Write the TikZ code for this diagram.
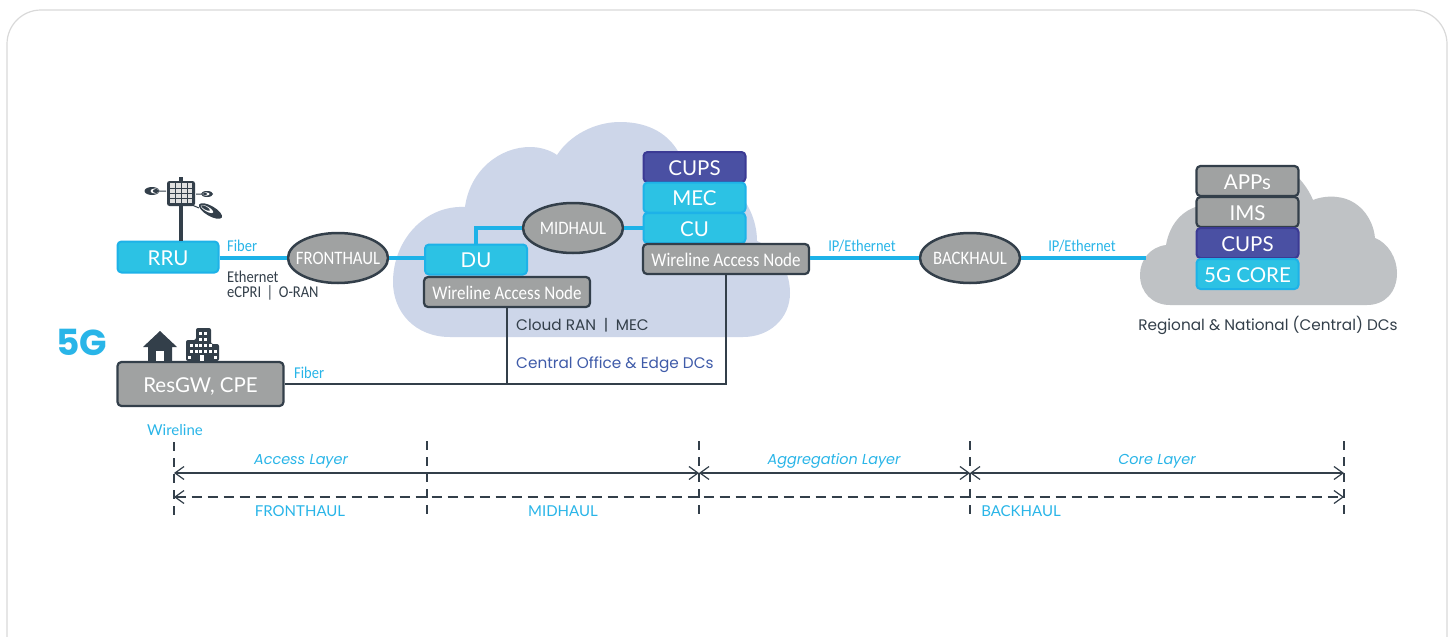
\documentclass[tikz,border=0pt]{standalone}
\usepackage{fontspec}
\setmainfont{Lato}
\newfontfamily\narrowf[FakeStretch=0.88]{Carlito}
\newfontfamily\widef{Poppins}
\usetikzlibrary{shapes.geometric,arrows.meta}
\definecolor{cy}{HTML}{2CC2E4}
\definecolor{cyb}{HTML}{1DB2E8}
\definecolor{txtc}{HTML}{29B5E8}
\definecolor{dk}{HTML}{333F4A}
\definecolor{gy}{HTML}{A0A2A2}
\definecolor{pu}{HTML}{4A50A3}
\definecolor{pub}{HTML}{3B3A94}
\definecolor{cl}{HTML}{CDD6E9}
\definecolor{clg}{HTML}{BFC2C5}
\definecolor{blu}{HTML}{3F5BA9}
\newcommand{\hubtext}[1]{\makebox[0pt]{#1}}
\tikzset{
 x=1pt,y=-1pt,
 base/.style={rounded corners=4pt,line width=2pt,inner sep=0pt,text=white,text height=16pt,text depth=0pt,font=\fontsize{20.5}{20}\selectfont},
 cybox/.style={base,draw=cyb,fill=cy},
 pubox/.style={base,draw=pub,fill=pu},
 gybox/.style={base,draw=dk,fill=gy,line width=2.2pt},
 wan/.style={gybox,minimum width=166pt,minimum height=30pt,text height=14pt,font=\narrowf\fontsize{19.3}{18}\selectfont},
 stackbox/.style={minimum width=102pt,minimum height=30pt},
 hub/.style={ellipse,draw=dk,fill=gy,line width=2.5pt,minimum width=100pt,minimum height=50pt,inner sep=0pt,text=white,font=\narrowf\fontsize{19}{18}\selectfont},
 blueline/.style={cyb,line width=4pt},
 darkline/.style={dk,line width=2pt},
 lab/.style={inner sep=0pt,text=txtc,font=\narrowf\fontsize{16.5}{15}\selectfont},
 darklab/.style={inner sep=0pt,text=dk,font=\narrowf\fontsize{16.5}{15}\selectfont},
 txt/.style={inner sep=0pt,font=\fontsize{15}{15}\selectfont},
 wtxt/.style={inner sep=0pt,font=\widef\fontsize{15.3}{15}\selectfont},
 ltxt/.style={inner sep=0pt,text=txtc,font=\widef\itshape\fontsize{14.4}{15}\selectfont},
 tick/.style={dk,line width=1.6pt,dash pattern=on 9pt off 7pt},
 span/.style={dk,line width=1.5pt,{Straight Barb[length=9pt,width=13pt,line width=1.2pt]}-{Straight Barb[length=9pt,width=13pt,line width=1.2pt]}},
 dspan/.style={span,dash pattern=on 10pt off 6pt},
}
\begin{document}
\begin{tikzpicture}
\useasboundingbox (0,0) rectangle (1452,637);
% card
\draw[draw=black!15,line width=1.2pt,fill=white,rounded corners=34pt] (7,10) rectangle (1447,680);
% clouds
\fill[cl] (450,337) .. controls (415,337) and (393,312) .. (393,282)
 .. controls (393,240) and (425,205) .. (465,207)
 .. controls (470,170) and (500,147) .. (530,147)
 .. controls (540,147) and (550,150) .. (557,155)
 .. controls (570,135) and (595,122) .. (620,122)
 .. controls (650,122) and (670,135) .. (680,155)
 .. controls (720,165) and (757,200) .. (757,241)
 .. controls (777,250) and (790,270) .. (790,293)
 .. controls (790,318) and (770,337) .. (743,337) -- cycle;
\fill[clg] (1170,305) .. controls (1152,305) and (1140,292) .. (1140,275)
 .. controls (1140,260) and (1150,247) .. (1166,245)
 .. controls (1170,222) and (1185,207) .. (1205,205)
 -- (1290,170)
 .. controls (1300,178) and (1308,188) .. (1313,200)
 .. controls (1320,197) and (1330,196) .. (1337,197)
 .. controls (1358,199) and (1373,217) .. (1375,238)
 .. controls (1388,243) and (1397,258) .. (1397,273)
 .. controls (1397,292) and (1385,305) .. (1367,305) -- cycle;
% nodes
\node[cybox,minimum width=101pt,minimum height=31pt] (rru) at (168,257) {RRU};
\node[hub] (fh) at (338,258) {\hubtext{FRONTHAUL}};
\node[cybox,minimum width=102pt,minimum height=30pt] (du) at (476,259.5) {DU};
\node[wan] (wan1) at (507,292) {Wireline Access Node};
\node[hub] (mh) at (573,228) {\hubtext{MIDHAUL}};
\node[hub] (bh) at (970,258) {\hubtext{BACKHAUL}};
\node[gybox,minimum width=166pt,minimum height=44pt] (res) at (200.5,384) {ResGW, CPE};
\coordinate (cloudedge) at (1146,258);
\coordinate (junction) at (507,384);
% connectors
\draw[blueline] (fh -| rru.east) -- (fh.west);
\draw[blueline] (fh.east) -- (fh -| du.west);
\draw[blueline] (du.north) |- (mh.west);
\draw[darkline] (wan1.south) -- (junction);
% stacks
\node[pubox,stackbox] (cups1) at (694.5,167) {CUPS};
\node[cybox,stackbox] (mec) at (694.5,197.5) {MEC};
\node[cybox,stackbox] (cu) at (694.5,228) {CU};
\node[wan] (wan2) at (726,259) {Wireline Access Node};
\draw[blueline] (mh.east) -- (cu.west);
\draw[blueline] (bh -| wan2.east) -- (bh.west);
\draw[blueline] (bh.east) -- (cloudedge);
\draw[darkline] (res.east) -| (wan2.south);
\node[gybox,stackbox] (apps) at (1247.5,181) {APPs};
\node[gybox,stackbox] (ims) at (1247.5,212) {IMS};
\node[pubox,stackbox] (cups2) at (1247.5,243) {CUPS};
\node[cybox,stackbox] (core) at (1247.5,274) {5G CORE};
% labels
\node[lab,anchor=west] (l1) at (227,246) {Fiber};
\node[darklab,anchor=west] (l2) at (227,277) {Ethernet};
\node[darklab,anchor=west] (l3) at (227,293) {eCPRI\,\,|\,\,O-RAN};
\node[lab,anchor=west] (l4) at (294,373) {Fiber};
\node[inner sep=0pt,text=txtc,font=\widef\bfseries\fontsize{36}{36}\selectfont] (fiveg) at (82,342) {5G};
\node[lab] (l5) at (862,246) {IP/Ethernet};
\node[lab] (l6) at (1082,246) {IP/Ethernet};
\node[wtxt,text=dk,anchor=west] (l7) at (516,325) {Cloud RAN\enspace|\enspace MEC};
\node[wtxt,text=blu,anchor=west] (l8) at (516,365) {Central Office \& Edge DCs};
\node[wtxt,text=dk] (l9) at (1268,325) {Regional \& National (Central) DCs};
\node[txt,text=txtc] (l10) at (175,430) {Wireline};
% antenna
\draw[dk,line width=3.5pt] (181,177) -- (181,241);
\fill[dk,rounded corners=2.5pt] (167,181) rectangle (195,206);
\fill[black!12] (170,183) rectangle (192,203);
\foreach \gx in {175,181,187} \draw[dk,line width=.9pt] (\gx,183) -- (\gx,203);
\foreach \gy in {188,193,198} \draw[dk,line width=.9pt] (170,\gy) -- (192,\gy);
\draw[dk,line width=1pt] (166,191) -- (158,191) (196,194) -- (201,194) (192,205) -- (199,208);
\fill[dk] (152,191) ellipse [x radius=7.5pt,y radius=4pt];
\fill[white] (155,191) ellipse [x radius=4.5pt,y radius=2.6pt];
\fill[dk] (156,191) ellipse [x radius=3.2pt,y radius=2pt];
\fill[dk] (207,194) ellipse [x radius=6pt,y radius=3pt];
\fill[white] (206,194) ellipse [x radius=3.5pt,y radius=1.7pt];
\fill[dk] (205,194) ellipse [x radius=2pt,y radius=1.2pt];
\fill[dk,rotate around={-30:(210.5,211)}] (210.5,211) ellipse [x radius=13pt,y radius=5pt];
\fill[white,rotate around={-30:(207,209)}] (207,209) ellipse [x radius=7pt,y radius=2.4pt];
\fill[dk,rotate around={-30:(205.5,208)}] (205.5,208) ellipse [x radius=5pt,y radius=1.6pt];
% house
\fill[dk] (143,347) -- (160,331) -- (177,347) -- (172,347) -- (172,361) -- (148,361) -- (148,347) -- cycle;
\fill[white] (156,351) rectangle (164,361);
% building
\fill[dk,rounded corners=2pt] (186,361) -- (186,340) -- (196,340) -- (196,328) -- (211,328) -- (211,344) -- (219,344) -- (219,361) -- cycle;
\foreach \bx/\by in {199/332,204/332,199/338,204/338,190/344,195/344,190/350,195/350,199/344,204/344,199/350,204/350,209/350,214/350,209/344,188/356,214/356}
 \fill[white] (\bx,\by) rectangle ++(3,3);
\fill[white] (200,355) rectangle (204,361);
% layer scale
\coordinate (a1) at (174,442); \coordinate (a2) at (174,517);
\coordinate (b1) at (427,441); \coordinate (b2) at (427,515);
\coordinate (c1) at (699,441); \coordinate (c2) at (699,515);
\coordinate (d1) at (970,441); \coordinate (d2) at (970,515);
\coordinate (e1) at (1344,441); \coordinate (e2) at (1344,517);
\coordinate (sa) at (174,473); \coordinate (sc) at (699,473); \coordinate (sd) at (970,473); \coordinate (se) at (1344,473);
\coordinate (ta) at (174,497); \coordinate (te) at (1344,497);
\foreach \p in {a,b,c,d,e} \draw[tick] (\p1) -- (\p2);
\draw[span] (sa) -- (sc);
\draw[span] (sc) -- (sd);
\draw[span] (sd) -- (se);
\draw[dspan] (ta) -- (te);
\node[ltxt] (t1) at (301,461) {Access Layer};
\node[ltxt] (t2) at (834,461) {Aggregation Layer};
\node[ltxt] (t3) at (1157,461) {Core Layer};
\node[txt,text=txtc] (t4) at (300,511.5) {FRONTHAUL};
\node[txt,text=txtc] (t5) at (563,511.5) {MIDHAUL};
\node[txt,text=txtc] (t6) at (1021,511.5) {BACKHAUL};
\end{tikzpicture}
\end{document}
